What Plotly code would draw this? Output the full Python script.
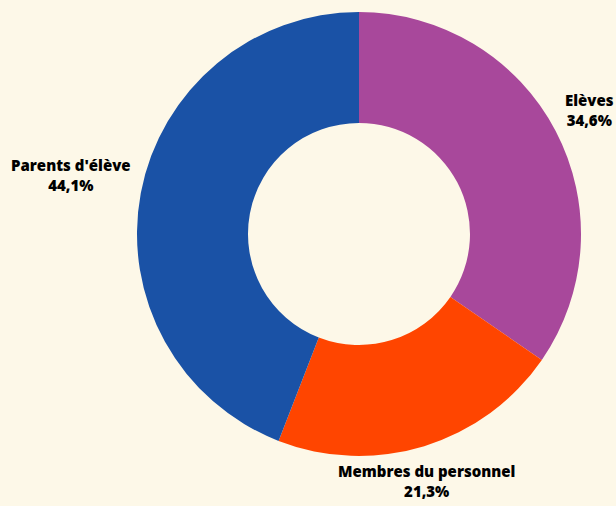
import math
import plotly.graph_objects as go

labels = ["Elèves", "Membres du personnel", "Parents d'élève"]
values = [34.6, 21.3, 44.1]
value_text = ["34,6%", "21,3%", "44,1%"]
colors = ["#a8489b", "#ff4500", "#1a52a6"]

W, H = 616, 506
ML, MR, MT, MB = 137, 35, 12, 50
plot_w = W - ML - MR
plot_h = H - MT - MB

fig = go.Figure(go.Pie(
    labels=labels,
    values=values,
    hole=0.5,
    sort=False,
    direction="clockwise",
    rotation=0,
    marker=dict(colors=colors, line=dict(width=0)),
    textinfo="none",
    showlegend=False,
    hoverinfo="label+percent",
))

# outside labels placed at each slice's mid-angle, derived from the values
total = sum(values)
cum = 0.0
radius_px = min(plot_w, plot_h) / 2
offset_px = 8
for lab, val, txt in zip(labels, values, value_text):
    mid = (cum + val / 2) / total * 2 * math.pi
    cum += val
    sx, sy = math.sin(mid), math.cos(mid)
    r = radius_px + offset_px
    x = 0.5 + r * sx / plot_w
    y = 0.5 + r * sy / plot_h
    if abs(sx) < 0.5:
        xa = "center"
    elif sx > 0:
        xa = "left"
    else:
        xa = "right"
    ya = "bottom" if sy > 0 else "top"
    fig.add_annotation(
        x=x, y=y, xref="paper", yref="paper",
        xanchor=xa, yanchor=ya, align="center",
        yshift=-5,
        text=f"{lab}<br>{txt}", showarrow=False,
        font=dict(family="Open Sans", size=15, color="#000000", weight=800),
    )

fig.update_layout(
    width=W, height=H,
    paper_bgcolor="#fdf8e8",
    plot_bgcolor="#fdf8e8",
    margin=dict(l=ML, r=MR, t=MT, b=MB),
)

fig.write_html(
    "out.html",
    config={"displayModeBar": False},
    post_script="document.body.style.margin='0';document.body.style.background='#fdf8e8';",
)
